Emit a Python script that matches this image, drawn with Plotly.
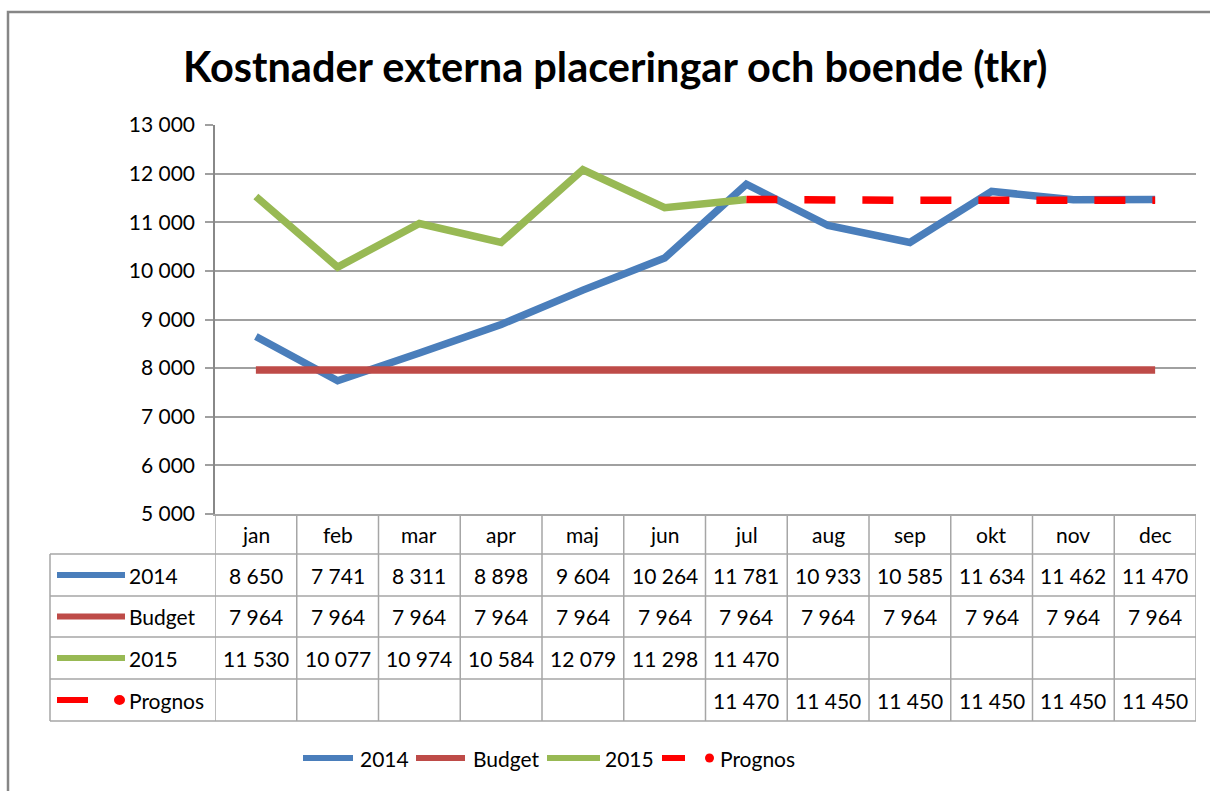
import plotly.graph_objects as go

W, H = 1210, 791

months = ["jan", "feb", "mar", "apr", "maj", "jun", "jul", "aug", "sep", "okt", "nov", "dec"]
s2014 = [8650, 7741, 8311, 8898, 9604, 10264, 11781, 10933, 10585, 11634, 11462, 11470]
budget = [7964, 7964, 7964, 7964, 7964, 7964, 7964, 7964, 7964, 7964, 7964, 7964]
s2015 = [11530, 10077, 10974, 10584, 12079, 11298, 11470, None, None, None, None, None]
prognos = [None, None, None, None, None, None, 11470, 11450, 11450, 11450, 11450, 11450]
y_ticks = [5000, 6000, 7000, 8000, 9000, 10000, 11000, 12000, 13000]

series = [
    ("2014", s2014, "#4A7EBB", None),
    ("Budget", budget, "#BE4B48", None),
    ("2015", s2015, "#98B954", None),
    ("Prognos", prognos, "#FF0000", "31px,27px"),
]

FONT = "Lato"
GRID = "#A0A0A0"
BORDER = "#A6A6A6"


def px(x):
    return x / W


def py(y):
    return 1 - y / H


def fmt(v):
    return "" if v is None else f"{v:,}".replace(",", " ")


fig = go.Figure()
for name, vals, color, dash in series:
    fig.add_trace(go.Scatter(
        x=months, y=vals, name=name, mode="lines",
        line=dict(color=color, width=7.5, dash=dash),
        connectgaps=False, showlegend=False,
    ))

# plot area geometry (pixels)
PL, PR, PT, PB = 215, 1196, 125, 514
row_edges = [514, 554, 596, 637, 679, 721]
TL = 50

shapes = []
annotations = []

# outer chart border (right/bottom edges fall outside the picture)
shapes.append(dict(type="rect", xref="paper", yref="paper",
                   x0=px(8), x1=px(1230), y0=py(12), y1=py(820),
                   line=dict(color="#868686", width=2.5), layer="below"))

# table grid
for i in range(len(months) + 1):
    shapes.append(dict(type="line", xref="x", yref="paper",
                       x0=i - 0.5, x1=i - 0.5, y0=py(row_edges[0]), y1=py(row_edges[-1]),
                       line=dict(color=BORDER, width=1.5)))
shapes.append(dict(type="line", xref="paper", yref="paper",
                   x0=px(TL), x1=px(TL), y0=py(row_edges[1]), y1=py(row_edges[-1]),
                   line=dict(color=BORDER, width=1.5)))
for y in row_edges[1:]:
    shapes.append(dict(type="line", xref="paper", yref="paper",
                       x0=px(TL), x1=px(PR), y0=py(y), y1=py(y),
                       line=dict(color=BORDER, width=1.5)))

# month header
hdr_c = (row_edges[0] + row_edges[1]) / 2
for m in months:
    annotations.append(dict(x=m, xref="x", y=py(hdr_c), yref="paper", text=m,
                            showarrow=False, font=dict(family=FONT, size=21, color="#000"),
                            xanchor="center", yanchor="middle"))

# rows with legend keys
for r, (name, vals, color, dash) in enumerate(series):
    yc = (row_edges[r + 1] + row_edges[r + 2]) / 2
    if dash is None:
        shapes.append(dict(type="line", xref="paper", yref="paper",
                           x0=px(57), x1=px(125), y0=py(yc), y1=py(yc),
                           line=dict(color=color, width=6)))
    else:
        shapes.append(dict(type="line", xref="paper", yref="paper",
                           x0=px(57), x1=px(88), y0=py(yc), y1=py(yc),
                           line=dict(color=color, width=6)))
        shapes.append(dict(type="circle", xref="paper", yref="paper",
                           x0=px(114), x1=px(125), y0=py(yc - 5), y1=py(yc + 5),
                           fillcolor=color, line=dict(width=0)))
    annotations.append(dict(x=px(127), xref="paper", y=py(yc), yref="paper", text=name,
                            showarrow=False, font=dict(family=FONT, size=21, color="#000"),
                            xanchor="left", yanchor="middle"))
    for m, v in zip(months, vals):
        if v is None:
            continue
        annotations.append(dict(x=m, xref="x", y=py(yc), yref="paper", text=fmt(v),
                                showarrow=False, font=dict(family=FONT, size=21, color="#000"),
                                xanchor="center", yanchor="middle"))

# bottom legend
LY = 758
leg_pos = [(303, 353, 358), (416, 465, 471), (547, 600, 603), (662, 685, 718)]
for (name, vals, color, dash), (a, b, t) in zip(series, leg_pos):
    shapes.append(dict(type="line", xref="paper", yref="paper",
                       x0=px(a), x1=px(b), y0=py(LY), y1=py(LY),
                       line=dict(color=color, width=6)))
    if dash is not None:
        shapes.append(dict(type="circle", xref="paper", yref="paper",
                           x0=px(705), x1=px(714), y0=py(LY - 4.5), y1=py(LY + 4.5),
                           fillcolor=color, line=dict(width=0)))
    annotations.append(dict(x=px(t), xref="paper", y=py(LY), yref="paper", text=name,
                            showarrow=False, font=dict(family=FONT, size=21, color="#000"),
                            xanchor="left", yanchor="middle"))

# title
annotations.append(dict(x=px(615), xref="paper", y=py(66), yref="paper",
                        text="<b>Kostnader externa placeringar och boende (tkr)</b>",
                        showarrow=False, font=dict(family=FONT, size=41.5, color="#000"),
                        xanchor="center", yanchor="middle"))

fig.update_layout(
    width=W, height=H,
    margin=dict(l=0, r=0, t=0, b=0, pad=0, autoexpand=False),
    paper_bgcolor="white", plot_bgcolor="white",
    separators=", ",
    showlegend=False,
    shapes=shapes, annotations=annotations,
    xaxis=dict(domain=[px(PL), px(PR)], type="category", range=[-0.5, 11.5],
               showticklabels=False, ticks="", showgrid=False, zeroline=False,
               automargin=False,
               showline=True, linecolor=BORDER, linewidth=1.5, fixedrange=True),
    yaxis=dict(domain=[py(PB), py(PT)], range=[5000, 13000], tickvals=y_ticks,
               tickformat=",d", showgrid=True, gridcolor=GRID, gridwidth=1.5,
               zeroline=False, showline=True, linecolor="#888888", linewidth=1.5,
               ticks="outside", ticklen=8, tickcolor=GRID, tickwidth=1.5,
               ticklabelstandoff=6, automargin=False,
               tickfont=dict(family=FONT, size=21, color="#000"), fixedrange=True),
)

fig.write_html(
    "out.html",
    config={"displayModeBar": False},
    post_script="document.body.style.margin='0';document.body.style.overflow='hidden';"
                "document.documentElement.style.overflow='hidden';",
)
